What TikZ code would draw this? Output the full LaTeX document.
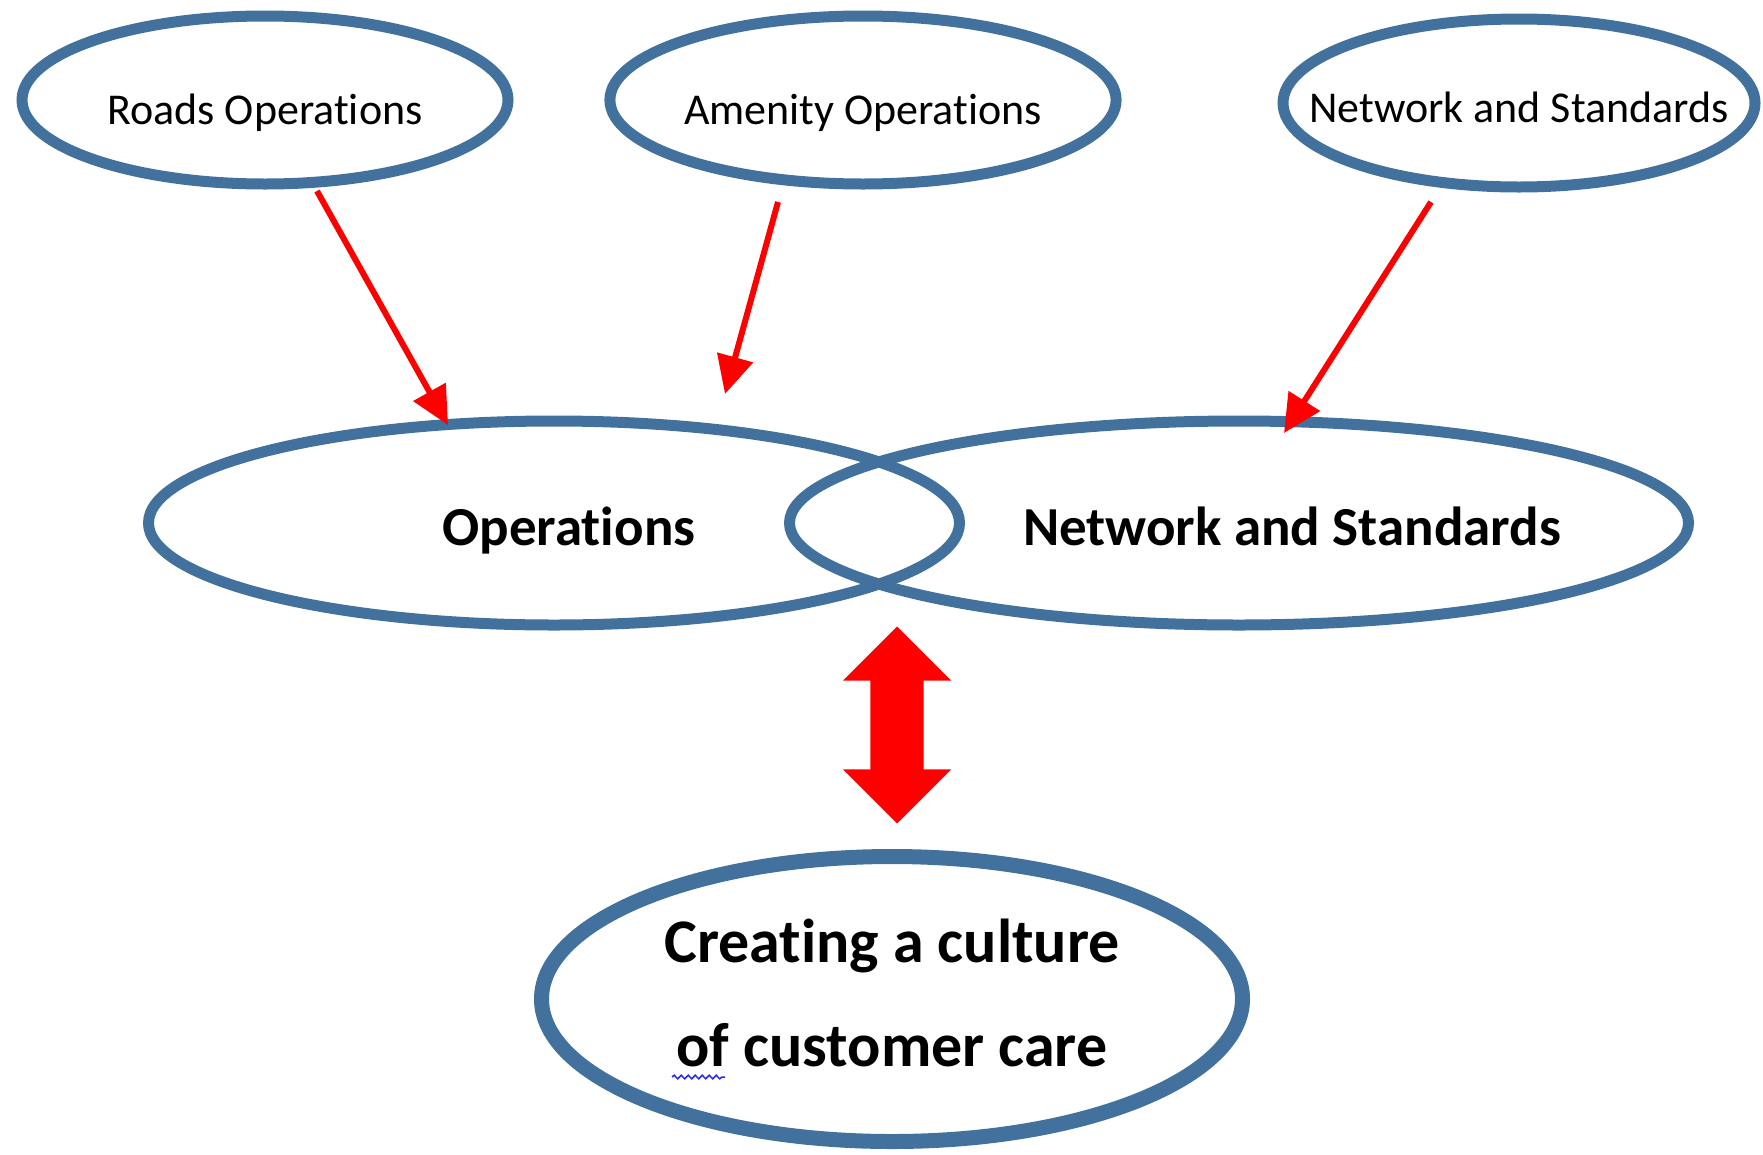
\documentclass[tikz,border=0pt]{standalone}
\usepackage{fontspec}
\setmainfont{Carlito}[Ligatures=NoCommon]
\usetikzlibrary{shapes.geometric,shapes.arrows,arrows.meta,decorations.pathmorphing}
\definecolor{ovalblue}{RGB}{65,113,156}

\begin{document}
\begin{tikzpicture}[x=1pt, y=-1pt,
    unit/.style={ellipse, draw=ovalblue, line width=11pt, inner sep=0pt},
    section/.style={unit, minimum height=168pt, text height=58pt, text depth=10pt, font=\fontsize{44}{53}\selectfont},
    feed/.style={draw=red, line width=6pt, -{Triangle[length=38pt,width=36pt]}}]
    \useasboundingbox (0,0) rectangle (1763,1154);
    % the three sections
    \node[section, minimum width=486pt] (roads) at (265,100) {Roads Operations};
    \node[section, minimum width=485pt] (amenity) at (863,100) {Amenity Operations};
    \node[section, minimum width=472pt] (nettop) at (1519,103) {};
    \node[anchor=base, font=\fontsize{44}{53}\selectfont] (nettoptext) at ([shift={(0,19)}]nettop.center) {Network and Standards};
    % the two services
    \node[unit, minimum width=811pt, minimum height=204pt] (ops) at (554,523) {};
    \node[unit, minimum width=899pt, minimum height=204pt] (net) at (1239,523) {};
    \node[anchor=base, font=\fontsize{55}{66}\bfseries] (opstext) at ([shift={(15,22)}]ops.center) {Operations};
    \node[anchor=base, font=\fontsize{55}{66}\bfseries] (nettext) at ([shift={(53,22)}]net.center) {Network and Standards};
    % goal
    \node[unit, line width=15pt, minimum width=701pt, minimum height=285pt, align=center, text depth=13pt,
        font=\fontsize{62}{104}\bfseries] (care) at (892,999) {Creating a culture\\of customer care};
    \draw[blue!85, line width=1.5pt, decorate, decoration={snake, amplitude=1.8pt, segment length=7pt}] (672,1077) -- (725,1077);
    \node[double arrow, rotate=90, fill=red, inner xsep=0pt, inner ysep=26.5pt, minimum width=108pt, minimum height=197pt,
        double arrow head extend=27.5pt] (link) at (897,725) {};
    \draw[feed] ([shift={(52,91)}]roads.center) -- ([shift={(-106,-98)}]ops.center);
    \draw[feed] ([shift={(-85,102)}]amenity.center) -- ([shift={(171,-129)}]ops.center);
    \draw[feed] ([shift={(-88,99)}]nettop.center) -- ([shift={(45,-90)}]net.center);
\end{tikzpicture}
\end{document}
